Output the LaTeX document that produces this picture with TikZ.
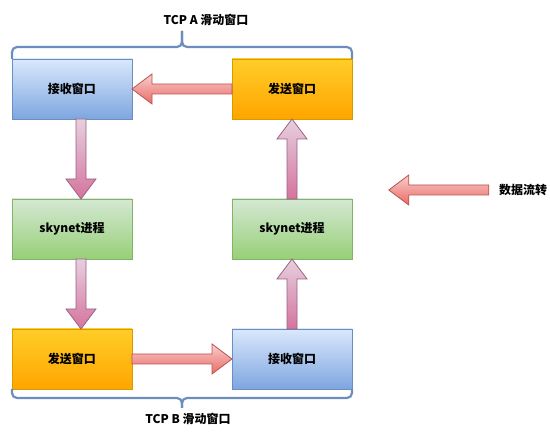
\documentclass[tikz,border=0pt]{standalone}
\usepackage{fontspec}
\setmainfont{Noto Sans CJK SC}
\usetikzlibrary{positioning, calc}
\definecolor{bluetop}{HTML}{DAE8FC}
\definecolor{bluebot}{HTML}{7EA6E0}
\definecolor{blueline}{HTML}{6C8EBF}
\definecolor{orangetop}{HTML}{FFCD28}
\definecolor{orangebot}{HTML}{FFA500}
\definecolor{orangeline}{HTML}{D79B00}
\definecolor{greentop}{HTML}{D5E8D4}
\definecolor{greenbot}{HTML}{97D077}
\definecolor{greenline}{HTML}{82B366}
\definecolor{redtop}{HTML}{F8CECC}
\definecolor{redbot}{HTML}{EA6B66}
\definecolor{redline}{HTML}{B85450}
\definecolor{pinktop}{HTML}{E6D0DE}
\definecolor{pinkbot}{HTML}{D5739D}
\definecolor{pinkline}{HTML}{996185}
\newcommand{\fatarrow}[3][]{%
  \coordinate (fahead) at ($(#3)!20pt!(#2)$);
  \path[#1] ($(#2)!5pt!90:(#3)$) -- ($(fahead)!5pt!90:(#3)$) -- ($(fahead)!15pt!90:(#3)$) -- (#3)
    -- ($(fahead)!15pt!-90:(#3)$) -- ($(fahead)!5pt!-90:(#3)$) -- ($(#2)!5pt!-90:(#3)$) -- cycle;}

\begin{document}
\begin{tikzpicture}[x=1pt, y=1pt,
      box/.style={rectangle, minimum width=120pt, minimum height=60pt, inner sep=0pt, outer sep=0pt,
                  line width=0.8pt, font=\fontsize{12}{14}\selectfont\bfseries},
      recvbox/.style={box, draw=blueline, top color=bluetop, bottom color=bluebot},
      sendbox/.style={box, draw=orangeline, top color=orangetop, bottom color=orangebot},
      procbox/.style={box, draw=greenline, top color=greentop, bottom color=greenbot},
      lbl/.style={inner sep=0pt, font=\fontsize{12}{14}\selectfont\bfseries},
      redarr/.style={draw=redline, line width=0.8pt, top color=redtop, bottom color=redbot},
      pinkarr/.style={draw=pinkline, line width=0.8pt, top color=pinktop, bottom color=pinkbot},
      brc/.style={draw=blueline, line width=2.2pt, rounded corners=5pt}]
    \useasboundingbox (0,0) rectangle (550,-435);
    % TCP A
    \node[recvbox] (recvA) at (72,-89) {接收窗口};
    \node[sendbox, right=100pt of recvA] (sendA) {发送窗口};
    \node[procbox, below=80pt of recvA] (procL) {skynet进程};
    \node[procbox, below=80pt of sendA] (procR) {skynet进程};
    % TCP B
    \node[sendbox, below=70pt of procL] (sendB) {发送窗口};
    \node[recvbox, below=70pt of procR] (recvB) {接收窗口};
    % flow
    \coordinate (downA1) at ([xshift=9pt]recvA.south);
    \coordinate (downA2) at ([xshift=9pt]procL.north);
    \coordinate (downB1) at ([xshift=9pt]procL.south);
    \coordinate (downB2) at ([xshift=9pt]sendB.north);
    \fatarrow[redarr]{sendA.west}{recvA.east}
    \fatarrow[pinkarr]{downA1}{downA2}
    \fatarrow[pinkarr]{downB1}{downB2}
    \fatarrow[redarr]{sendB.east}{recvB.west}
    \fatarrow[pinkarr]{recvB.north}{procR.south}
    \fatarrow[pinkarr]{procR.north}{sendA.south}
    % braces
    \coordinate (tipA) at ($(recvA.north west)!0.5!(sendA.north east)+(0,28pt)$);
    \draw[brc] (recvA.north west) |- ($(tipA)+(0,-16pt)$) -- (tipA);
    \draw[brc] (sendA.north east) |- ($(tipA)+(0,-16pt)$) -- (tipA);
    \node[lbl] (labA) at ($(tipA)+(24pt,11pt)$) {TCP A 滑动窗口};
    \coordinate (tipB) at ($(sendB.south west)!0.5!(recvB.south east)+(0,-19pt)$);
    \draw[brc] (sendB.south west) |- ($(tipB)+(0,10pt)$) -- (tipB);
    \draw[brc] (recvB.south east) |- ($(tipB)+(0,10pt)$) -- (tipB);
    \node[lbl] (labB) at ($(tipB)+(6pt,-11pt)$) {TCP B 滑动窗口};
    % legend
    \node[lbl] (flow) at (523,-190) {数据流转};
    \coordinate (flowtail) at ([xshift=-10pt]flow.west);
    \coordinate (flowtip) at ([xshift=-100pt]flowtail);
    \fatarrow[redarr]{flowtail}{flowtip}
  \end{tikzpicture}
\end{document}
